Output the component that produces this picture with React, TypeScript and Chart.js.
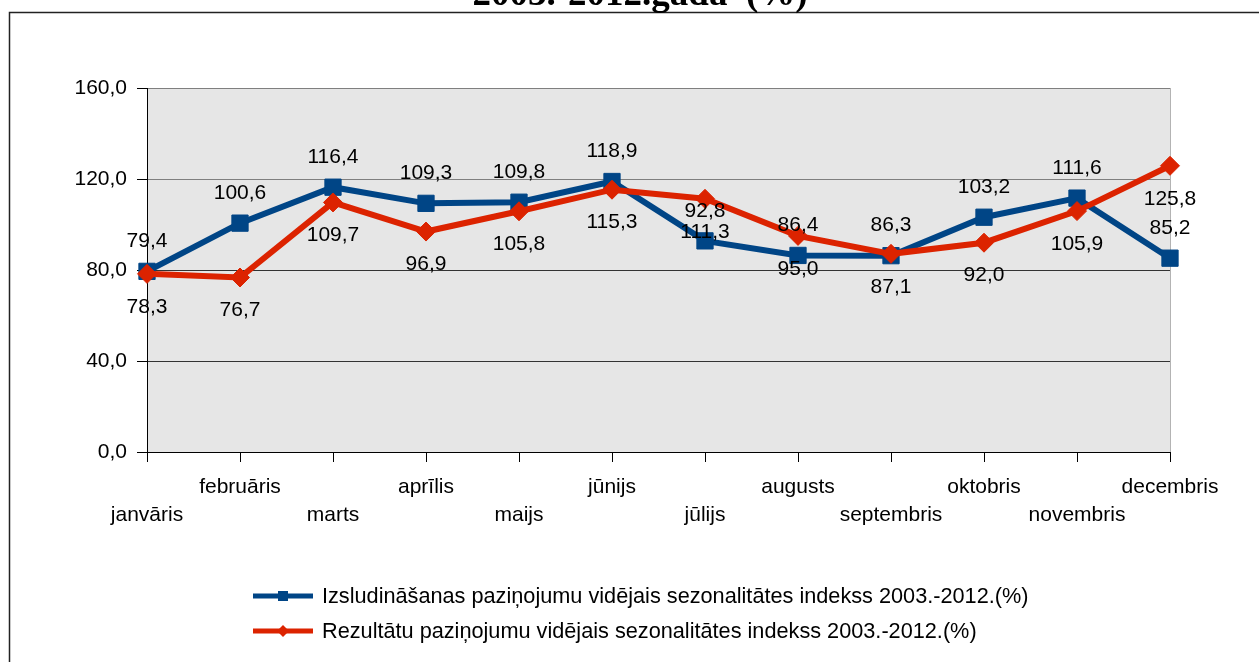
import React, { useEffect, useRef } from "react";
import { Chart, registerables } from "chart.js";

Chart.register(...registerables);

const categories: string[] = [
  "janvāris", "februāris", "marts", "aprīlis", "maijs", "jūnijs",
  "jūlijs", "augusts", "septembris", "oktobris", "novembris", "decembris",
];
const announceValues: number[] = [79.4, 100.6, 116.4, 109.3, 109.8, 118.9, 92.8, 86.4, 86.3, 103.2, 111.6, 85.2];
const resultValues: number[] = [78.3, 76.7, 109.7, 96.9, 105.8, 115.3, 111.3, 95.0, 87.1, 92.0, 105.9, 125.8];
const seriesNames: string[] = [
  "Izsludināšanas paziņojumu vidējais sezonalitātes indekss 2003.-2012.(%)",
  "Rezultātu paziņojumu vidējais sezonalitātes indekss 2003.-2012.(%)",
];
const yTicks: number[] = [0, 40, 80, 120, 160];
const titleText = "2003.-2012.gada  (%)";

const BLUE = "#004586";
const RED = "#dc2300";
const FONT = "'Liberation Sans', Arial, sans-serif";

const fmt = (v: number) => v.toFixed(1).replace(".", ",");

// staggered category labels (two rows)
const xLabels = categories.map((c, i) => (i % 2 === 0 ? ["", c] : [c, ""]));

const decorPlugin = {
  id: "decor",
  beforeDraw(chart: any) {
    const { ctx, chartArea } = chart;
    ctx.save();
    ctx.fillStyle = "#ffffff";
    ctx.fillRect(0, 0, chart.width, chart.height);
    // outer frame
    ctx.strokeStyle = "#222";
    ctx.lineWidth = 1.5;
    ctx.beginPath();
    ctx.moveTo(9.5, chart.height + 5);
    ctx.lineTo(9.5, 12.5);
    ctx.lineTo(chart.width + 5, 12.5);
    ctx.stroke();
    // plot background
    ctx.fillStyle = "#e6e6e6";
    ctx.fillRect(chartArea.left, chartArea.top, chartArea.right - chartArea.left, chartArea.bottom - chartArea.top);
    ctx.strokeStyle = "#b3b3b3";
    ctx.lineWidth = 1;
    ctx.beginPath();
    ctx.moveTo(Math.round(chartArea.right) + 0.5, chartArea.top);
    ctx.lineTo(Math.round(chartArea.right) + 0.5, chartArea.bottom);
    ctx.stroke();
    // title (cut off at top)
    ctx.fillStyle = "#000";
    ctx.font = "bold 37px 'Liberation Serif', 'Times New Roman', serif";
    ctx.textAlign = "center";
    ctx.textBaseline = "alphabetic";
    ctx.fillText(titleText, 640, 5);
    ctx.restore();
  },
  afterDatasetsDraw(chart: any) {
    const { ctx } = chart;
    const offsets = [-30, 33];
    ctx.save();
    ctx.fillStyle = "#000";
    ctx.font = `21px ${FONT}`;
    ctx.textAlign = "center";
    ctx.textBaseline = "middle";
    chart.data.datasets.forEach((ds: any, i: number) => {
      const meta = chart.getDatasetMeta(i);
      meta.data.forEach((pt: any, j: number) => {
        ctx.fillText(fmt(ds.data[j]), pt.x, pt.y + offsets[i]);
      });
    });
    ctx.restore();
  },
  afterDraw(chart: any) {
    const { ctx } = chart;
    ctx.save();
    const x0 = 253, x1 = 313;
    const rows = [596, 631];
    chart.data.datasets.forEach((ds: any, i: number) => {
      const y = rows[i];
      ctx.strokeStyle = ds.borderColor;
      ctx.lineWidth = 5;
      ctx.beginPath();
      ctx.moveTo(x0, y);
      ctx.lineTo(x1, y);
      ctx.stroke();
      ctx.fillStyle = ds.borderColor;
      const cx = (x0 + x1) / 2;
      if (ds.pointStyle === "rect") {
        ctx.fillRect(cx - 5, y - 5, 10, 10);
      } else {
        ctx.beginPath();
        ctx.moveTo(cx - 6, y);
        ctx.lineTo(cx, y - 6);
        ctx.lineTo(cx + 6, y);
        ctx.lineTo(cx, y + 6);
        ctx.closePath();
        ctx.fill();
      }
      ctx.fillStyle = "#000";
      ctx.font = `21.7px ${FONT}`;
      ctx.textAlign = "left";
      ctx.textBaseline = "middle";
      ctx.fillText(ds.label, 322, y + 1);
    });
    ctx.restore();
  },
};

export default function App() {
  const canvasRef = useRef<HTMLCanvasElement | null>(null);

  useEffect(() => {
    document.body.style.margin = "0";
    const canvas = canvasRef.current;
    if (!canvas) return;
    const chart = new Chart(canvas, {
      type: "line",
      data: {
        labels: xLabels as any,
        datasets: [
          {
            label: seriesNames[0],
            data: announceValues,
            borderColor: BLUE,
            backgroundColor: BLUE,
            borderWidth: 6,
            pointStyle: "rect",
            pointRadius: 11.5,
            pointBorderWidth: 1,
            pointBorderColor: BLUE,
            pointBackgroundColor: BLUE,
            tension: 0,
            clip: false as any,
            order: 1,
          },
          {
            label: seriesNames[1],
            data: resultValues,
            borderColor: RED,
            backgroundColor: RED,
            borderWidth: 6,
            pointStyle: "rectRot",
            pointRadius: 9.5,
            pointBorderWidth: 1,
            pointBorderColor: RED,
            pointBackgroundColor: RED,
            tension: 0,
            clip: false as any,
            order: 0,
          },
        ],
      },
      options: {
        responsive: false,
        animation: false,
        layout: { padding: { top: 88, left: 0, right: 89, bottom: 100 } },
        plugins: {
          legend: { display: false },
          tooltip: { enabled: false },
          title: { display: false },
        },
        scales: {
          x: {
            offset: false,
            grid: {
              drawOnChartArea: false,
              drawTicks: true,
              tickLength: 10,
              tickColor: "#000",
            },
            border: { display: true, color: "#000", width: 1 },
            ticks: {
              autoSkip: false,
              maxRotation: 0,
              minRotation: 0,
              padding: 11,
              color: "#000",
              font: { family: FONT, size: 21, lineHeight: 28 / 21 },
            },
            afterFit: (scale: any) => {
              scale.height = 110;
            },
          },
          y: {
            min: 0,
            max: 160,
            afterBuildTicks: (scale: any) => {
              scale.ticks = yTicks.map((v) => ({ value: v }));
            },
            grid: {
              drawTicks: true,
              tickLength: 10,
              tickColor: "#000",
              color: (c: any) => (c.tick && c.tick.value >= 120 ? "#7f7f7f" : "#333333"),
            },
            border: { display: true, color: "#000", width: 1 },
            ticks: {
              padding: 10,
              color: "#000",
              font: { family: FONT, size: 21 },
              callback: (v: any) => fmt(Number(v)),
            },
            afterFit: (scale: any) => {
              scale.width = 147;
            },
          },
        },
      },
      plugins: [decorPlugin],
    });
    return () => chart.destroy();
  }, []);

  return (
    <div style={{ position: "fixed", left: 0, top: 0, width: 1259, height: 662, background: "#fff" }}>
      <canvas ref={canvasRef} width={1259} height={662} style={{ display: "block" }} />
    </div>
  );
}
